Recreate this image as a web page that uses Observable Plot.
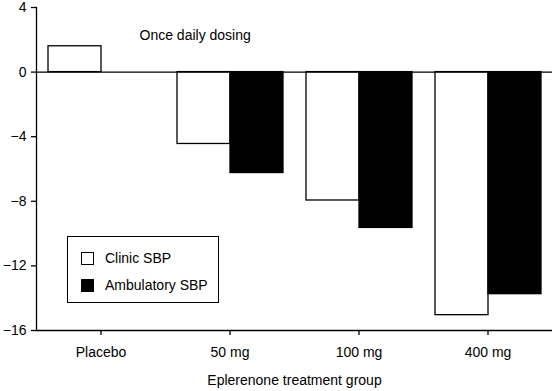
<!DOCTYPE html>
<html><head><meta charset="utf-8">
<script src="https://cdn.jsdelivr.net/npm/d3@7"></script>
<script src="https://cdn.jsdelivr.net/npm/@observablehq/plot@0.6"></script>
<style>
body{margin:0;background:#fff;font-family:"Liberation Sans",Arial,sans-serif}
#wrap{position:relative;width:553px;height:391px}
#legend{position:absolute;left:67px;top:236px;width:150px;height:65px;border:1.5px solid #000;background:#fff;font-size:14px;color:#000}
.item{position:absolute;left:13px;display:flex;align-items:center;white-space:nowrap}
.sw{width:11px;height:11px;border:1.3px solid #000;margin-right:11px}
</style>
</head><body><div id="wrap"></div>
<script>
const groups = ["Placebo", "50 mg", "100 mg", "400 mg"];
const series = ["Clinic SBP", "Ambulatory SBP"];
const clinic = [1.6, -4.45, -7.95, -15.05];
const ambulatory = [null, -6.25, -9.65, -13.75];
const yTicks = [4, 0, -4, -8, -12, -16];
const note = "Once daily dosing";
const xLabel = "Eplerenone treatment group";

const data = [];
groups.forEach((g, i) => {
  if (clinic[i] != null) data.push({group: g, series: series[0], value: clinic[i]});
  if (ambulatory[i] != null) data.push({group: g, series: series[1], value: ambulatory[i]});
});

const chart = Plot.plot({
  width: 553, height: 391,
  marginLeft: 36, marginRight: 1, marginTop: 7, marginBottom: 61,
  style: {fontFamily: '"Liberation Sans", Arial, sans-serif', fontSize: "14px", color: "#000", background: "#fff"},
  fx: {domain: groups, padding: 0, label: null, axis: null},
  x: {domain: series, paddingInner: 0, paddingOuter: 0.21, axis: null},
  y: {domain: [-16, 4], label: null, axis: null},
  color: {domain: series, range: ["#fff", "#000"]},
  marks: [
    Plot.barY(data, {fx: "group", x: "series", y: "value", fill: "series", stroke: "#000", strokeWidth: 1.3}),
    Plot.ruleY([0], {stroke: "#000", strokeWidth: 1.3}),
    Plot.ruleY([-16], {stroke: "#000", strokeWidth: 1.3}),
    Plot.frame({anchor: "left", facetAnchor: "left", stroke: "#000", strokeWidth: 1.3}),
    Plot.axisY({anchor: "left", ticks: yTicks, tickSize: 5, tickPadding: 5, tickFormat: d => d3.format("d")(d).replace("-", "\u2212"), label: null, strokeWidth: 1.3, fontSize: 14}),
    Plot.axisFx({anchor: "bottom", tickSize: 5, tickPadding: 12, label: xLabel, labelAnchor: "center", labelOffset: 54, strokeWidth: 1.3, fontSize: 14}),
    Plot.text([{group: "Placebo"}], {fx: "group", text: () => note, frameAnchor: "top-left", textAnchor: "start", dx: 103, dy: 23, fontSize: 14})
  ]
});
const wrap = document.getElementById("wrap");
wrap.appendChild(chart);

const legend = document.createElement("div");
legend.id = "legend";
series.forEach((s, i) => {
  const it = document.createElement("div");
  it.className = "item";
  it.style.top = (i === 0 ? 13 : 40) + "px";
  const sw = document.createElement("div");
  sw.className = "sw";
  sw.style.background = i === 0 ? "#fff" : "#000";
  const t = document.createElement("span");
  t.textContent = s;
  it.appendChild(sw); it.appendChild(t);
  legend.appendChild(it);
});
wrap.appendChild(legend);
</script>
</body></html>
